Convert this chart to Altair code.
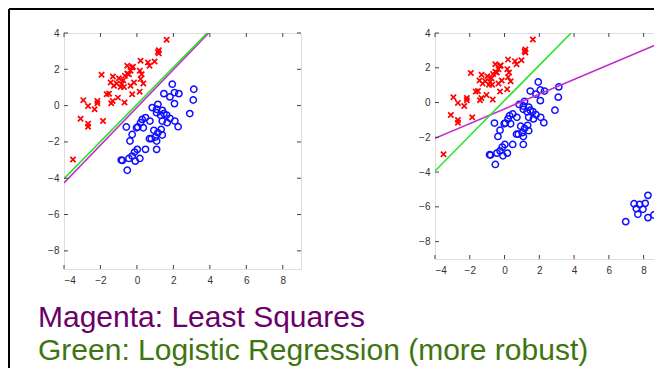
import altair as alt
import pandas as pd

# ---------------- data ----------------
red_x = [1.63, 1.2, 1.2, 1.15, 0.2, 0.97, 0.6, 0.69, -0.53, -0.26, -0.22, -0.35, 0.16, 0.26, -0.53, -1.94,
         -1.32, -0.99, -0.66, -0.44, -0.75, -1.44, -1.11, -0.83, -0.89, -0.71, -0.35, -0.16, 0.2, 0.35, -1.26,
         -1.53, -1.66, -1.04, -1.33, -1.41, -0.26, 0.15, -0.68, -2.17, -2.17, -2.94, -2.68, -2.32, -3.09,
         -2.68, -2.68, -1.86, -3.51]
red_y = [3.63, 3.05, 2.88, 2.95, 2.47, 2.43, 2.38, 2.2, 2.2, 2.1, 2.14, 1.92, 1.92, 1.73, 1.77, 1.7,
         1.6, 1.51, 1.64, 1.73, 1.4, 1.27, 1.22, 1.18, 1.03, 1.03, 1.09, 1.27, 1.46, 1.22, 1.09,
         0.66, 0.63, 0.44, 0.26, 0.13, 0.63, 0.77, 0.17, 0.26, 0.13, 0.3, -0.02, -0.2, -0.72,
         -1.0, -1.16, -0.85, -2.97]

blue_x = [1.94, 3.12, 1.48, 2.06, 2.3, 1.81, 3.09, 2.06, 1.15, 0.84, 1.08, 1.39, 1.08, 1.48, 1.3, 1.63,
          2.9, 0.47, 0.29, 0.71, 1.39, 1.66, 1.81, 2.08, 2.26, 0.2, 0.05, -0.02, 0.35, -0.58, -0.26,
          0.93, 1.15, 1.33, 1.39, 1.02, 0.69, 0.79, 1.08, -0.38, 1.08, 0.47, 0.02, -0.13, -0.26, 0.16,
          -0.44, -0.8, -0.86, -0.09, -0.53]
blue_y = [1.18, 0.9, 0.66, 0.72, 0.66, 0.48, 0.31, 0.11, 0.07, -0.11, -0.2, -0.26, -0.39, -0.44, -0.53, -0.52,
          -0.44, -0.66, -0.76, -0.85, -0.85, -0.94, -0.7, -0.85, -1.16, -0.94, -1.18, -1.22, -1.22, -1.18, -1.59,
          -1.36, -1.49, -1.31, -1.62, -1.73, -1.82, -1.82, -1.95, -1.95, -2.41, -2.41, -2.41, -2.56, -2.78, -2.91,
          -2.91, -3.02, -3.0, -3.06, -3.56]

outlier_x = [8.25, 7.45, 7.77, 8.09, 7.58, 7.96, 7.67, 8.25, 8.59, 6.97]
outlier_y = [-5.34, -5.82, -5.86, -5.8, -6.1, -6.14, -6.43, -6.62, -6.47, -6.85]

# fitted boundaries (end points)
green1_x = [-4.0, 3.85]
green1_y = [-4.02, 4.0]
magenta1_x = [-4.0, 3.94]
magenta1_y = [-4.26, 4.0]
green2_x = [-4.0, 3.83]
green2_y = [-3.94, 4.0]
magenta2_x = [-4.0, 9.0]
magenta2_y = [-2.06, 3.44]

ticks_x = [-4, -2, 0, 2, 4, 6, 8]
ticks_y = [-8, -6, -4, -2, 0, 2, 4]

legend_lines = ["Magenta: Least Squares", "Green: Logistic Regression (more robust)"]
legend_colors = ["#6a0068", "#3f7510"]

X_DOMAIN = [-4, 9]
Y_DOMAIN = [-9, 4]
CROSS = "M-1,-1L1,1M1,-1L-1,1"


def panel(width, height, bx, by, gx, gy, mx, my, extra=None):
    xs = alt.Scale(domain=X_DOMAIN, nice=False, zero=False)
    ys = alt.Scale(domain=Y_DOMAIN, nice=False, zero=False)
    xax = alt.Axis(values=ticks_x, title=None, grid=False, ticks=False, domain=False,
                   labelFontSize=10, labelColor="#333", labelPadding=6, labelFont="Liberation Sans")
    yax = alt.Axis(values=ticks_y, title=None, grid=False, ticks=False, domain=False,
                   labelFontSize=10, labelColor="#333", labelPadding=5, labelFont="Liberation Sans")

    red = pd.DataFrame({"x": red_x, "y": red_y})
    blue = pd.DataFrame({"x": bx, "y": by})
    green = pd.DataFrame({"x": gx, "y": gy})
    magenta = pd.DataFrame({"x": mx, "y": my})
    tx = pd.DataFrame({"t": ticks_x})
    ty = pd.DataFrame({"t": ticks_y})

    base_x = alt.X("x:Q", scale=xs, axis=xax)
    base_y = alt.Y("y:Q", scale=ys, axis=yax)

    layers = [
        alt.Chart(red).mark_point(shape=CROSS, size=28, color="#ff0000", strokeWidth=1.7,
                                  opacity=1).encode(x=base_x, y=base_y),
        alt.Chart(blue).mark_point(shape="circle", size=40, color="#1010ff", strokeWidth=1.5,
                                   filled=False, opacity=1).encode(x=base_x, y=base_y),
        alt.Chart(magenta).mark_line(color="#c030c8", strokeWidth=1.6, clip=True).encode(x=base_x, y=base_y),
        alt.Chart(green).mark_line(color="#2ee02e", strokeWidth=1.6, clip=True).encode(x=base_x, y=base_y),
        # inside ticks (MATLAB style)
        alt.Chart(tx).mark_rule(color="#444", strokeWidth=1).encode(
            x=alt.X("t:Q", scale=xs, axis=xax), y=alt.value(height), y2=alt.value(height - 4)),
        alt.Chart(tx).mark_rule(color="#444", strokeWidth=1).encode(
            x=alt.X("t:Q", scale=xs, axis=xax), y=alt.value(0), y2=alt.value(4)),
        alt.Chart(ty).mark_rule(color="#444", strokeWidth=1).encode(
            y=alt.Y("t:Q", scale=ys, axis=yax), x=alt.value(0), x2=alt.value(4)),
        alt.Chart(ty).mark_rule(color="#444", strokeWidth=1).encode(
            y=alt.Y("t:Q", scale=ys, axis=yax), x=alt.value(width - 4), x2=alt.value(width)),
    ]
    if extra:
        layers += extra
    return alt.layer(*layers).properties(width=width, height=height)


W1, H1 = 237, 236
W2, H2 = 226, 226

one = pd.DataFrame({"k": [0]})
annotations = [
    alt.Chart(one).mark_text(text=legend_lines[0], color=legend_colors[0], font="Liberation Sans",
                             fontSize=30, align="left", baseline="alphabetic").encode(
        x=alt.value(-26), y=alt.value(294)),
    alt.Chart(one).mark_text(text=legend_lines[1], color=legend_colors[1], font="Liberation Sans",
                             fontSize=30, align="left", baseline="alphabetic").encode(
        x=alt.value(-26), y=alt.value(327)),
    # slide frame
    alt.Chart(one).mark_rule(color="#000", strokeWidth=2).encode(
        x=alt.value(-55), x2=alt.value(620), y=alt.value(-24)),
    alt.Chart(one).mark_rule(color="#000", strokeWidth=2).encode(
        x=alt.value(-55), y=alt.value(-24), y2=alt.value(360)),
]

left = panel(W1, H1, blue_x, blue_y, green1_x, green1_y, magenta1_x, magenta1_y, extra=annotations)
right = panel(W2, H2, blue_x + outlier_x, blue_y + outlier_y, green2_x, green2_y, magenta2_x, magenta2_y)

chart = alt.hconcat(left, right, spacing=134, bounds="flush").properties(
    autosize=alt.AutoSizeParams(type="none"),
    padding={"left": 56, "top": 25, "right": 590, "bottom": 335},
).configure_view(stroke="#333", strokeWidth=1).configure(background="white")

chart.save("out.html", embed_options={"renderer": "svg", "actions": False})
